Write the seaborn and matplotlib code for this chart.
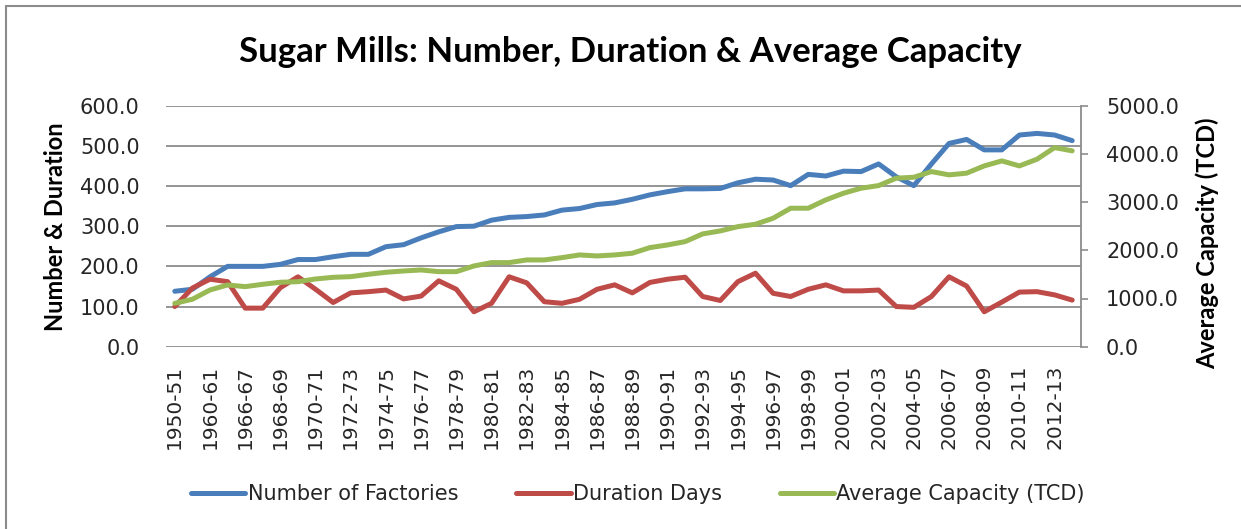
import numpy as np
import pandas as pd
import matplotlib
matplotlib.use("Agg")
import matplotlib.pyplot as plt
from matplotlib.lines import Line2D
import seaborn as sns

seasons = ["1950-51", "1955-56", "1960-61", "1965-66"] + \
    [f"{y}-{str(y + 1)[-2:]}" for y in range(1966, 2014)]

factories = [138, 143, 174, 200, 200, 200, 205, 217, 217, 224,
             230, 230, 249, 254, 271, 286, 299, 300, 315, 322,
             324, 328, 340, 344, 354, 358, 367, 378, 386, 393,
             393, 394, 408, 417, 415, 401, 429, 425, 437, 436,
             455, 423, 401, 455, 506, 516, 490, 490, 527, 531,
             527, 513]

duration = [100, 146, 168, 162, 96, 96, 147, 174, 143, 110,
            134, 137, 141, 119, 126, 164, 143, 87, 108, 174,
            159, 112, 108, 118, 143, 154, 134, 160, 168, 173,
            125, 115, 162, 183, 133, 125, 143, 154, 139, 139,
            141, 100, 98, 125, 174, 151, 87, 111, 136, 137,
            129, 116]

capacity = [900, 984, 1177, 1281, 1246, 1295, 1337, 1349, 1405, 1440,
            1453, 1502, 1544, 1571, 1592, 1557, 1557, 1675, 1745, 1745,
            1800, 1800, 1848, 1904, 1883, 1904, 1939, 2056, 2111, 2180,
            2340, 2402, 2491, 2541, 2665, 2873, 2873, 3046, 3184, 3288,
            3343, 3496, 3516, 3633, 3565, 3600, 3751, 3855, 3751, 3890,
            4131, 4063]

left_ticks = [0, 100, 200, 300, 400, 500, 600]
right_ticks = [0, 1000, 2000, 3000, 4000, 5000]

df = pd.DataFrame({"season": seasons, "idx": np.arange(len(seasons)),
                   "factories": factories, "duration": duration,
                   "capacity": capacity})

sns.set_theme(style="white")
plt.rcParams["font.family"] = ["DejaVu Sans"]

BLUE, RED, GREEN = "#4A7EBB", "#BE4B48", "#98B954"
GRID = "#8C8C8C"
LW = 3.6

fig = plt.figure(figsize=(12.41, 5.29), dpi=100)
W = 1081 - 166
ax = fig.add_axes([166 / 1241, 1 - 346.7 / 529, W / 1241, (346.7 - 105.7) / 529])
ax2 = ax.twinx()

kw = dict(linewidth=LW, solid_capstyle="round", solid_joinstyle="round")
sns.lineplot(data=df, x="idx", y="factories", ax=ax, color=BLUE, legend=False, **kw)
sns.lineplot(data=df, x="idx", y="duration", ax=ax, color=RED, legend=False, **kw)
sns.lineplot(data=df, x="idx", y="capacity", ax=ax2, color=GREEN, legend=False, **kw)

n = len(seasons)
for a in (ax, ax2):
    a.set_xlim(-0.5, n - 0.5)
ax.set_ylim(0, 600)
ax2.set_ylim(0, 5000)

ax.set_yticks(left_ticks)
ax.set_yticklabels([f"{v:.1f}" for v in left_ticks])
ax2.set_yticks(right_ticks)
ax2.set_yticklabels([f"{v:.1f}" for v in right_ticks])

ax.set_xticks(df["idx"][::2])
ax.set_xticklabels(seasons[::2], rotation=90, fontsize=14.5)
ax.tick_params(axis="x", length=0, pad=13)
ax.tick_params(axis="y", length=0, pad=19, labelsize=15)
ax2.tick_params(axis="y", length=5, width=1.2, color=GRID, direction="out",
                pad=13, labelsize=15, right=True)

ax.grid(axis="y", color=GRID, linewidth=1.3)
ax.grid(axis="x", visible=False)
ax2.grid(False)
for a in (ax, ax2):
    for s in ["top", "left", "bottom", "right"]:
        a.spines[s].set_visible(False)
ax2.spines["right"].set_visible(True)
ax2.spines["right"].set_color(GRID)
ax2.spines["right"].set_linewidth(1.3)

ax.set_xlabel("")
ax.set_ylabel("Number & Duration", fontsize=17, fontweight="bold",
              family=["Lato", "DejaVu Sans"], color="black")
ax2.set_ylabel("Average Capacity (TCD)", fontsize=17, fontweight="bold",
               family=["Lato", "DejaVu Sans"], color="black")
ax.yaxis.set_label_coords((67 - 166) / W, 0.5)
ax2.yaxis.set_label_coords((1196 - 166) / W, 0.43)

fig.text(630 / 1241, 1 - 52 / 529, "Sugar Mills: Number, Duration & Average Capacity",
         ha="center", va="center", fontsize=25, fontweight="bold",
         family=["Lato", "DejaVu Sans"], color="black")

handles = [Line2D([], [], color=c, linewidth=LW, solid_capstyle="round")
           for c in (BLUE, RED, GREEN)]
fig.legend(handles, ["Number of Factories", "Duration Days", "Average Capacity (TCD)"],
           loc="center", bbox_to_anchor=(638 / 1241, 1 - 494 / 529), ncol=3,
           frameon=False, fontsize=15, handlelength=2.6, handletextpad=0.1,
           columnspacing=2.8)

fig.add_artist(Line2D([6 / 1241, 1], [1 - 6 / 529, 1 - 6 / 529], color="#8C8C8C",
                      linewidth=1.5, transform=fig.transFigure))
fig.add_artist(Line2D([6 / 1241, 6 / 1241], [0, 1 - 6 / 529], color="#8C8C8C",
                      linewidth=1.5, transform=fig.transFigure))

fig.savefig("out.png", dpi=100)
